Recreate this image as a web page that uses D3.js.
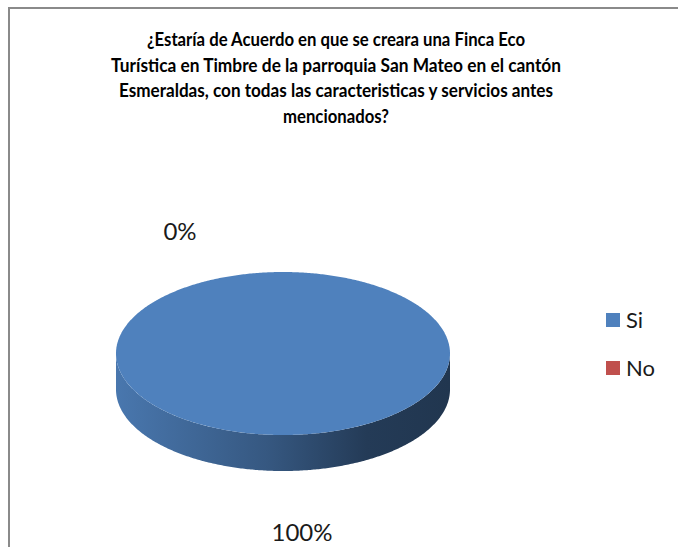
<!DOCTYPE html>
<html><head><meta charset="utf-8">
<script src="https://cdn.jsdelivr.net/npm/d3@7"></script>
<style>html,body{margin:0;padding:0;background:#fff;overflow:hidden}</style>
</head><body>
<svg id="chart" width="678" height="547"></svg>
<script>
const titleLines = [
  "¿Estaría de Acuerdo en que se creara una Finca Eco",
  "Turística en Timbre de la parroquia San Mateo en el cantón",
  "Esmeraldas, con todas las caracteristicas y servicios antes",
  "mencionados?"
];
const categories = ["Si", "No"];
const values = [100, 0];
const percentLabels = ["100%", "0%"];
const colors = ["#4f81bd", "#c0504d"];

const svg = d3.select("#chart");
const W = 678, H = 547;

// border
svg.append("path").attr("d", `M9,${H+5} L9,8 L${W+5},8`)
  .attr("fill", "none").attr("stroke", "#8a8a8a").attr("stroke-width", 2);

// title (line widths fitted to the reference)
const titleWidths = [378, 450, 434, 106];
const title = svg.append("text").attr("text-anchor", "middle")
  .attr("font-family", "Lato, 'Open Sans', sans-serif").attr("font-weight", "bold")
  .attr("font-size", 18.5).attr("fill", "#000");
titleLines.forEach((t, i) => {
  title.append("tspan").attr("x", 336).attr("y", 46 + i * 25.5)
    .attr("textLength", titleWidths[i]).attr("lengthAdjust", "spacingAndGlyphs").text(t);
});

// 3D pie
const cx = 283, cy = 353.5, rx = 167, ry = 81.5, depth = 36;
const pie = d3.pie().sort(null).startAngle(0).endAngle(2 * Math.PI);
const arcs = pie(values);
const px = a => cx + rx * Math.sin(a);
const py = a => cy - ry * Math.cos(a);

const defs = svg.append("defs");
const grads = colors.map((c, i) => {
  const g = defs.append("linearGradient").attr("id", "side" + i)
    .attr("gradientUnits", "userSpaceOnUse")
    .attr("x1", cx - rx).attr("x2", cx + rx).attr("y1", 0).attr("y2", 0);
  const base = d3.color(c);
  [[0, 0.92], [0.45, 0.68], [0.75, 0.46], [1, 0.42]].forEach(([o, k]) => {
    const col = d3.rgb(base.r * k, base.g * k, base.b * k);
    g.append("stop").attr("offset", o).attr("stop-color", col.formatHex());
  });
  return "url(#side" + i + ")";
});

function sample(a0, a1) {
  const n = Math.max(2, Math.ceil(Math.abs(a1 - a0) / 0.01));
  return d3.range(n + 1).map(k => a0 + (a1 - a0) * k / n);
}

// sides (front half: angles between PI/2 and 3PI/2)
arcs.forEach((d, i) => {
  if (d.endAngle - d.startAngle <= 0) return;
  const s = Math.max(d.startAngle, Math.PI / 2), e = Math.min(d.endAngle, 3 * Math.PI / 2);
  if (e <= s) return;
  const angs = sample(s, e);
  const top = angs.map(a => [px(a), py(a)]);
  const bot = angs.slice().reverse().map(a => [px(a), py(a) + depth]);
  svg.append("path").attr("d", d3.line()(top.concat(bot)) + "Z")
    .attr("fill", grads[i]);
});

// tops
arcs.forEach((d, i) => {
  if (d.endAngle - d.startAngle <= 0) return;
  const full = d.endAngle - d.startAngle >= 2 * Math.PI - 1e-6;
  const pts = sample(d.startAngle, d.endAngle).map(a => [px(a), py(a)]);
  const path = full ? d3.line()(pts) + "Z" : "M" + cx + "," + cy + d3.line()(pts).replace(/^M/, "L") + "Z";
  svg.append("path").attr("d", path).attr("fill", colors[i]);
});

// data labels
const labelOffsets = [[19, 187], [-103, -114]];
arcs.forEach((d, i) => {
  svg.append("text")
    .attr("x", cx + labelOffsets[i][0])
    .attr("y", cy + labelOffsets[i][1])
    .attr("text-anchor", "middle")
    .attr("font-family", "Lato, 'Open Sans', sans-serif")
    .attr("font-size", 24).attr("fill", "#1a1a1a")
    .text(percentLabels[i]);
});

// legend
const leg = svg.append("g");
categories.forEach((c, i) => {
  const y = 313 + i * 48;
  leg.append("rect").attr("x", 606).attr("y", y).attr("width", 14).attr("height", 14)
    .attr("fill", colors[i]);
  leg.append("text").attr("x", 626).attr("y", y + 14.5)
    .attr("font-family", "Lato, 'Open Sans', sans-serif")
    .attr("font-size", 22).attr("fill", "#1a1a1a").text(c);
});
</script>
</body></html>
